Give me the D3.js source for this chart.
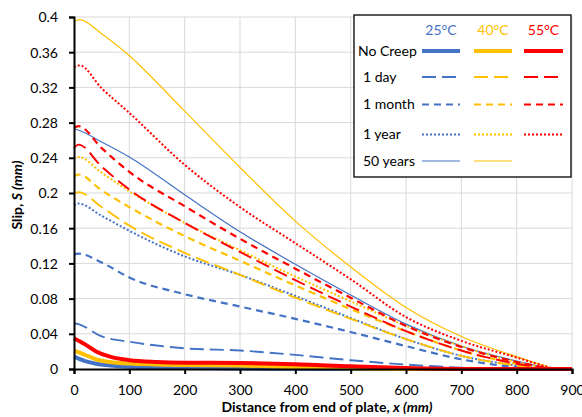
<!DOCTYPE html>
<html>
<head>
<meta charset="utf-8">
<script src="https://cdn.jsdelivr.net/npm/d3@7"></script>
<style>
  html, body { margin: 0; padding: 0; background: #fff; }
  svg { display: block; font-family: Lato, "Open Sans", "Liberation Sans", sans-serif; }
</style>
</head>
<body>
<svg id="chart" width="582" height="417"></svg>
<script>
// ---------------- DATA ----------------
const xTicks = [0, 100, 200, 300, 400, 500, 600, 700, 800, 900];
const yTicks = [0, 0.04, 0.08, 0.12, 0.16, 0.2, 0.24, 0.28, 0.32, 0.36, 0.4];
const temperatures = ["25°C", "40°C", "55°C"];
const durations = ["No Creep", "1 day", "1 month", "1 year", "50 years"];

// 25°C
const noCreep25 = [[0,0.014],[20,0.009],[40,0.006],[65,0.004],[100,0.0026],[200,0.0012],[300,0.0006],[400,0.0002],[500,0],[900,0]];
const day25     = [[0,0.052],[8,0.051],[50,0.037],[100,0.031],[200,0.0235],[300,0.021],[400,0.016],[500,0.010],[600,0.005],[700,0.0015],[760,0]];
const month25   = [[0,0.130],[8,0.131],[50,0.121],[100,0.104],[200,0.085],[300,0.071],[400,0.057],[500,0.042],[600,0.026],[700,0.011],[800,0.002],[840,0]];
const year25    = [[0,0.186],[8,0.188],[50,0.174],[100,0.157],[200,0.128],[300,0.107],[400,0.083],[500,0.058],[600,0.034],[700,0.015],[800,0.004],[855,0]];
const years50_25= [[0,0.273],[10,0.271],[50,0.258],[100,0.241],[200,0.198],[300,0.156],[400,0.119],[500,0.084],[600,0.051],[700,0.026],[800,0.009],[862,0]];

// 40°C
const noCreep40 = [[0,0.021],[20,0.016],[40,0.011],[65,0.008],[100,0.0062],[200,0.0045],[300,0.004],[400,0.002],[500,0.0005],[600,0],[900,0]];
const day40     = [[0,0.199],[8,0.201],[50,0.184],[100,0.163],[200,0.132],[300,0.107],[400,0.081],[500,0.057],[600,0.034],[700,0.015],[800,0.004],[855,0]];
const month40   = [[0,0.219],[8,0.221],[50,0.203],[100,0.184],[200,0.151],[300,0.123],[400,0.095],[500,0.068],[600,0.043],[700,0.021],[800,0.006],[862,0]];
const year40    = [[0,0.239],[8,0.241],[50,0.223],[100,0.202],[200,0.166],[300,0.135],[400,0.105],[500,0.077],[600,0.049],[700,0.026],[800,0.008],[865,0]];
const years50_40= [[0,0.395],[10,0.397],[50,0.381],[100,0.356],[200,0.293],[300,0.229],[400,0.168],[500,0.116],[600,0.070],[700,0.037],[800,0.014],[868,0]];

// 55°C
const noCreep55 = [[0,0.035],[20,0.028],[40,0.020],[65,0.014],[100,0.010],[150,0.008],[200,0.0072],[300,0.0068],[400,0.0055],[500,0.003],[600,0.001],[700,0],[900,0]];
const day55     = [[0,0.251],[8,0.255],[50,0.230],[100,0.204],[200,0.166],[300,0.133],[400,0.101],[500,0.071],[600,0.043],[700,0.021],[800,0.006],[862,0]];
const month55   = [[0,0.274],[8,0.276],[50,0.251],[100,0.224],[200,0.185],[300,0.148],[400,0.114],[500,0.081],[600,0.049],[700,0.025],[800,0.008],[865,0]];
const year55    = [[0,0.343],[10,0.345],[50,0.319],[100,0.291],[200,0.232],[300,0.184],[400,0.143],[500,0.102],[600,0.059],[700,0.032],[800,0.013],[868,0]];

// ---------------- STYLE ----------------
const colors = { "25°C": "#4472C4", "40°C": "#FFC000", "55°C": "#FF0000" };
const styles = {
  "No Creep": { w: 4,   dash: null },
  "1 day":    { w: 1.9, dash: "14,6" },
  "1 month":  { w: 2.2, dash: "7,5" },
  "1 year":   { w: 2,   dash: "2,2" },
  "50 years": { w: 1.2, dash: null }
};

const series = [
  { t: "25°C", d: "50 years", v: years50_25 },
  { t: "40°C", d: "50 years", v: years50_40 },
  { t: "25°C", d: "1 year", v: year25 },
  { t: "40°C", d: "1 year", v: year40 },
  { t: "55°C", d: "1 year", v: year55 },
  { t: "25°C", d: "1 month", v: month25 },
  { t: "40°C", d: "1 month", v: month40 },
  { t: "55°C", d: "1 month", v: month55 },
  { t: "25°C", d: "1 day", v: day25 },
  { t: "40°C", d: "1 day", v: day40 },
  { t: "55°C", d: "1 day", v: day55 },
  { t: "25°C", d: "No Creep", v: noCreep25 },
  { t: "40°C", d: "No Creep", v: noCreep40 },
  { t: "55°C", d: "No Creep", v: noCreep55 }
];

// ---------------- CHART ----------------
const svg = d3.select("#chart");
const L = 74, R = 572, T = 17, B = 369;
const FS = "14px";
const x = d3.scaleLinear().domain([0, 900]).range([L, R]);
const y = d3.scaleLinear().domain([0, 0.4]).range([B, T]);

// gridlines
const grid = svg.append("g");
grid.selectAll("line.h").data(yTicks.slice(1)).enter().append("line")
  .attr("x1", L).attr("x2", R).attr("y1", d => y(d)).attr("y2", d => y(d))
  .attr("stroke", "#d9d9d9").attr("stroke-width", 1);
grid.selectAll("line.v").data(xTicks.slice(1)).enter().append("line")
  .attr("y1", T).attr("y2", B).attr("x1", d => x(d)).attr("x2", d => x(d))
  .attr("stroke", "#d9d9d9").attr("stroke-width", 1);

// lines
const line = d3.line().x(d => x(d[0])).y(d => y(d[1])).curve(d3.curveMonotoneX);
const lines = svg.append("g");
series.forEach(s => {
  const st = styles[s.d];
  lines.append("path").datum(s.v)
    .attr("d", line)
    .attr("fill", "none")
    .attr("stroke", colors[s.t])
    .attr("stroke-width", st.w)
    .attr("stroke-dasharray", st.dash)
    .attr("stroke-linejoin", "round");
});

// axes
const xAxis = d3.axisBottom(x).tickValues(xTicks).tickSize(5).tickFormat(d3.format("d"));
const yAxis = d3.axisLeft(y).tickValues(yTicks).tickSize(5).tickFormat(d => d === 0 ? "0" : String(+d.toFixed(2)));
const gx = svg.append("g").attr("transform", `translate(0,${B})`).call(xAxis);
const gy = svg.append("g").attr("transform", `translate(${L},0)`).call(yAxis);
[gx, gy].forEach(g => {
  g.select(".domain").attr("stroke", "#000").attr("stroke-width", 2);
  g.selectAll(".tick line").attr("stroke", "#000").attr("stroke-width", 2);
  g.selectAll(".tick text").attr("fill", "#000").style("font-size", FS)
    .style("font-family", "Lato, 'Open Sans', sans-serif");
});
gx.selectAll(".tick text").attr("dy", null).attr("y", 26);
gy.selectAll(".tick text").attr("x", -16).attr("dy", "0.35em");

// axis titles
const xt = svg.append("text").attr("x", 327).attr("y", 412).attr("text-anchor", "middle")
  .style("font-size", FS).style("font-weight", "bold");
xt.append("tspan").text("Distance from end of plate, ");
xt.append("tspan").style("font-style", "italic").text("x (mm)");

const yt = svg.append("text").attr("transform", "translate(22,195) rotate(-90)")
  .attr("text-anchor", "middle").style("font-size", FS).style("font-weight", "bold");
yt.append("tspan").text("Slip, ");
yt.append("tspan").style("font-style", "italic").text("S (mm)");

// legend
const lg = svg.append("g");
lg.append("rect").attr("x", 354).attr("y", 15).attr("width", 217).attr("height", 162)
  .attr("fill", "#fff").attr("stroke", "#000").attr("stroke-width", 1.3);
const colX = { "25°C": [422, 460], "40°C": [474, 512], "55°C": [524, 563] };
const rowY = { "No Creep": 51, "1 day": 77, "1 month": 104.5, "1 year": 134.5, "50 years": 161 };
const labX = { "No Creep": 358, "1 day": 363, "1 month": 363, "1 year": 363, "50 years": 363 };
temperatures.forEach(t => {
  lg.append("text").attr("x", (colX[t][0] + colX[t][1]) / 2).attr("y", 35)
    .attr("text-anchor", "middle").attr("fill", colors[t]).style("font-size", FS).text(t);
});
durations.forEach(d => {
  lg.append("text").attr("x", labX[d]).attr("y", rowY[d]).attr("dy", "0.35em")
    .style("font-size", FS).attr("fill", "#000").text(d);
  temperatures.forEach(t => {
    if (d === "50 years" && t === "55°C") return;
    const st = styles[d];
    lg.append("line").attr("x1", colX[t][0]).attr("x2", colX[t][1])
      .attr("y1", rowY[d]).attr("y2", rowY[d])
      .attr("stroke", colors[t]).attr("stroke-width", st.w)
      .attr("stroke-dasharray", st.dash);
  });
});
</script>
</body>
</html>
